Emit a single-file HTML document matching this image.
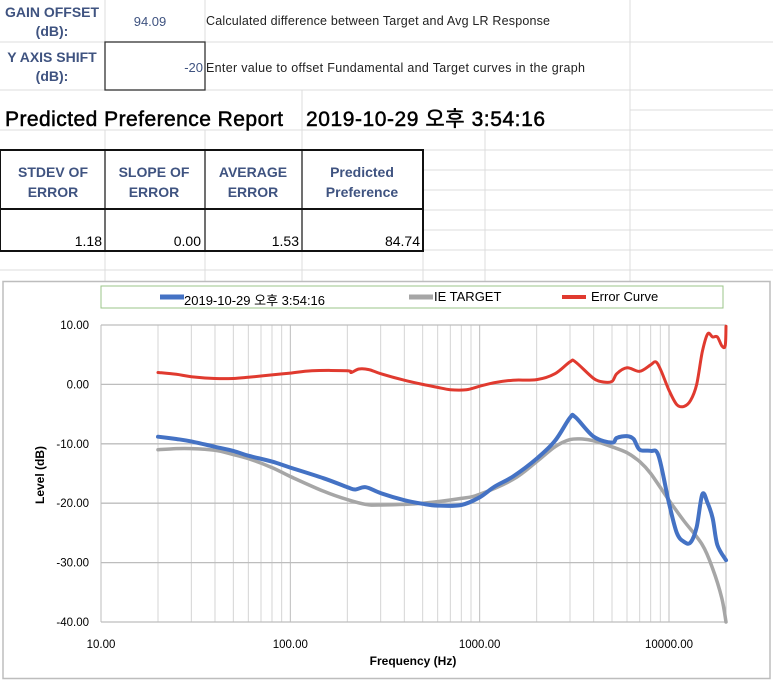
<!DOCTYPE html>
<html><head><meta charset="utf-8">
<style>
html,body{margin:0;padding:0;background:#fff;}
body{width:773px;height:681px;overflow:hidden;position:relative;font-family:"Liberation Sans","Noto Sans CJK KR",sans-serif;}
svg{position:absolute;left:0;top:0;}
.hdr{font-family:"Liberation Sans","Noto Sans CJK KR",sans-serif;fill:#3f5380;font-weight:bold;font-size:14px;}
</style></head><body>
<svg width="773" height="681" viewBox="0 0 773 681">
<g stroke="#dcdcdc" stroke-width="1" fill="none">
<line x1="0" y1="42" x2="773" y2="42"/><line x1="0" y1="90" x2="773" y2="90"/><line x1="0" y1="130" x2="773" y2="130"/>
<line x1="423" y1="150" x2="773" y2="150"/><line x1="423" y1="170" x2="773" y2="170"/><line x1="423" y1="190" x2="773" y2="190"/>
<line x1="423" y1="210" x2="773" y2="210"/><line x1="423" y1="230" x2="773" y2="230"/><line x1="423" y1="250" x2="773" y2="250"/>
<line x1="0" y1="270" x2="773" y2="270"/><line x1="630" y1="110" x2="773" y2="110"/>
<line x1="105" y1="0" x2="105" y2="42"/><line x1="205" y1="0" x2="205" y2="42"/><line x1="630" y1="0" x2="630" y2="281"/>
<line x1="302" y1="90" x2="302" y2="150"/><line x1="105" y1="130" x2="105" y2="150"/><line x1="205" y1="130" x2="205" y2="150"/>
<line x1="485" y1="130" x2="485" y2="281"/><line x1="105" y1="251" x2="105" y2="281"/><line x1="205" y1="251" x2="205" y2="281"/><line x1="302" y1="251" x2="302" y2="281"/><line x1="423" y1="251" x2="423" y2="281"/>
</g>
<rect x="105" y="42" width="100" height="48" fill="none" stroke="#333" stroke-width="1.3"/>
<text class="hdr" x="52" y="17" text-anchor="middle">GAIN OFFSET</text>
<text class="hdr" x="52" y="36" text-anchor="middle">(dB):</text>
<text x="150" y="26" text-anchor="middle" font-size="13" fill="#3f5380">94.09</text>
<text x="206" y="25" font-size="12.5" fill="#222" textLength="344">Calculated difference between Target and Avg LR Response</text>
<text class="hdr" x="52" y="62" text-anchor="middle">Y AXIS SHIFT</text>
<text class="hdr" x="52" y="81" text-anchor="middle">(dB):</text>
<text x="203" y="72" text-anchor="end" font-size="13" fill="#3f5380">-20</text>
<text x="206" y="72" font-size="12.5" fill="#222" textLength="379">Enter value to offset Fundamental and Target curves in the graph</text>
<text x="5" y="126" font-size="21" fill="#000" stroke="#000" stroke-width="0.5" textLength="278">Predicted Preference Report</text>
<text x="306" y="126" font-size="21" fill="#000" stroke="#000" stroke-width="0.5" textLength="239">2019-10-29 오후 3:54:16</text>
<g>
<rect x="0" y="150" width="423" height="101" fill="none" stroke="#111" stroke-width="2"/>
<line x1="0" y1="209" x2="423" y2="209" stroke="#111" stroke-width="2"/>
<line x1="105" y1="150" x2="105" y2="251" stroke="#111" stroke-width="1.2"/>
<line x1="205" y1="150" x2="205" y2="251" stroke="#111" stroke-width="1.2"/>
<line x1="302" y1="150" x2="302" y2="251" stroke="#111" stroke-width="1.2"/>
<text class="hdr" x="53" y="177" text-anchor="middle">STDEV OF</text><text class="hdr" x="53" y="197" text-anchor="middle">ERROR</text>
<text class="hdr" x="154" y="177" text-anchor="middle">SLOPE OF</text><text class="hdr" x="154" y="197" text-anchor="middle">ERROR</text>
<text class="hdr" x="253" y="177" text-anchor="middle">AVERAGE</text><text class="hdr" x="253" y="197" text-anchor="middle">ERROR</text>
<text class="hdr" x="362" y="177" text-anchor="middle">Predicted</text><text class="hdr" x="362" y="197" text-anchor="middle">Preference</text>
<text x="102" y="246" text-anchor="end" font-size="14" fill="#000">1.18</text>
<text x="201" y="246" text-anchor="end" font-size="14" fill="#000">0.00</text>
<text x="299" y="246" text-anchor="end" font-size="14" fill="#000">1.53</text>
<text x="420" y="246" text-anchor="end" font-size="14" fill="#000">84.74</text>
</g>
<rect x="3" y="281.5" width="767" height="397" fill="#fff" stroke="#bdbdbd" stroke-width="1.5"/>
<rect x="101" y="286" width="622" height="22" fill="#fff" stroke="#9bc48a" stroke-width="1"/>
<g><line x1="160" y1="297" x2="184" y2="297" stroke="#4472c4" stroke-width="5"/><text x="184" y="305" font-size="13" fill="#000">2019-10-29 오후 3:54:16</text></g>
<g><line x1="409" y1="297" x2="433" y2="297" stroke="#a6a6a6" stroke-width="5"/><text x="434" y="301" font-size="13" fill="#000">IE TARGET</text></g>
<g><line x1="562" y1="297" x2="586" y2="297" stroke="#e03a2f" stroke-width="4"/><text x="591" y="301" font-size="13" fill="#000">Error Curve</text></g>
<g id="grid"></g>
<g id="axes"></g>
<g id="series"></g>
<text x="413" y="665" text-anchor="middle" font-size="12" font-weight="bold" fill="#000">Frequency (Hz)</text>
<text transform="translate(44,475) rotate(-90)" text-anchor="middle" font-size="12" font-weight="bold" fill="#000">Level (dB)</text>
</svg>
<script>
const xTicks=[10,100,1000,10000];
const yTicks=[10,0,-10,-20,-30,-40];
const measuredFreq=[20,25,30,40,50,60,80,100,150,200,220,250,300,400,500,600,800,1000,1200,1500,2000,2500,3000,3200,4000,5000,5300,6000,6500,7000,8000,8800,10000,11000,12000,13000,14000,15000,16000,17000,18000,20000];
const measuredDb=[-8.8,-9.2,-9.6,-10.5,-11.2,-12,-13,-14,-15.8,-17.3,-17.7,-17.3,-18.3,-19.5,-20.1,-20.4,-20.3,-19,-17.2,-15.5,-12.5,-9.5,-5.6,-5.5,-8.8,-9.8,-9,-8.7,-9.2,-11,-11.2,-12,-20,-25,-26.5,-26.6,-24,-18.5,-20,-22.5,-27,-29.6];
const targetFreq=[20,25,30,40,50,60,80,100,150,200,250,300,500,800,1000,1500,2000,2500,3000,3500,4000,5000,6000,7000,8000,10000,12000,15000,17000,19000,20000];
const targetDb=[-11,-10.8,-10.8,-11.1,-11.8,-12.5,-14,-15.5,-18,-19.4,-20.2,-20.3,-20,-19.2,-18.5,-16,-13,-10.5,-9.3,-9.2,-9.5,-10.5,-11.5,-13,-15,-19.5,-23,-27,-31,-36,-40];
const errorFreq=[20,25,30,40,50,60,80,100,130,200,210,230,260,300,400,500,600,700,850,1000,1200,1500,2000,2500,3000,3200,4000,4500,5000,5300,6000,7000,8000,8500,9000,10000,11000,12000,13000,14000,15000,16000,17000,18000,19000,19800,20000];
const errorDb=[2,1.7,1.3,1,1,1.2,1.6,1.9,2.3,2.3,2,2.6,2.5,1.8,0.7,0,-0.5,-0.9,-0.9,-0.3,0.3,0.7,0.8,1.8,3.8,3.8,1,0.4,0.5,1.8,2.8,2.2,3.3,3.8,2.6,-1,-3.4,-3.7,-2.7,0,5.5,8.5,8,8,6.5,6.5,9.8];
const X0=101,X1=726,Y0=325,Y1=622;
function xs(f){return X0+(Math.log10(f)-1)/(Math.log10(20000)-1)*(X1-X0);}
function ys(v){return Y0+(10-v)/50*(Y1-Y0);}
const NS='http://www.w3.org/2000/svg';
function mk(t,a,p){const e=document.createElementNS(NS,t);for(const k in a)e.setAttribute(k,a[k]);p.appendChild(e);return e;}
const grid=document.getElementById('grid'),axes=document.getElementById('axes'),ser=document.getElementById('series');
for(let d=10;d<=10000;d*=10){for(let m=1;m<=9;m++){const f=d*m;if(f>20000)break;const x=xs(f);
 const l=mk('line',{x1:x,y1:Y0,x2:x,y2:Y1,stroke:m===1?'#bdbdbd':'#d4d4d4','stroke-width':1},grid);
 }}
const rl=mk('line',{x1:X1,y1:Y0,x2:X1,y2:Y1,stroke:'#bdbdbd'},grid);

yTicks.forEach(v=>{const y=ys(v);
 const l=mk('line',{x1:X0,y1:y,x2:X1,y2:y,stroke:'#bdbdbd','stroke-width':1.3},grid);
 
 const t=mk('text',{x:X0-12,y:y+4,'text-anchor':'end','font-size':11.5,fill:'#000'},axes);t.textContent=v.toFixed(2);
 });
xTicks.forEach(f=>{const t=mk('text',{x:xs(f),y:648,'text-anchor':'middle','font-size':11.5,fill:'#000'},axes);t.textContent=f.toFixed(2);
 });
function line(fr,db,col,w,name){
 const P=fr.map((f,i)=>[xs(f),ys(db[i])]);
 let d='M'+P[0][0].toFixed(1)+','+P[0][1].toFixed(1);
 for(let i=0;i<P.length-1;i++){const p0=P[i-1]||P[i],p1=P[i],p2=P[i+1],p3=P[i+2]||p2;
  const c1=[p1[0]+(p2[0]-p0[0])/6,p1[1]+(p2[1]-p0[1])/6],c2=[p2[0]-(p3[0]-p1[0])/6,p2[1]-(p3[1]-p1[1])/6];
  d+='C'+c1[0].toFixed(1)+','+c1[1].toFixed(1)+' '+c2[0].toFixed(1)+','+c2[1].toFixed(1)+' '+p2[0].toFixed(1)+','+p2[1].toFixed(1);}
 const p=mk('path',{d:d,fill:'none',stroke:col,'stroke-width':w,'stroke-linejoin':'round','stroke-linecap':'round'},ser);
 }
line(targetFreq,targetDb,'#a6a6a6',3.5,'target-line');
line(measuredFreq,measuredDb,'#4472c4',4,'measured-line');
line(errorFreq,errorDb,'#e03a2f',3,'error-line');
</script>
</body></html>
